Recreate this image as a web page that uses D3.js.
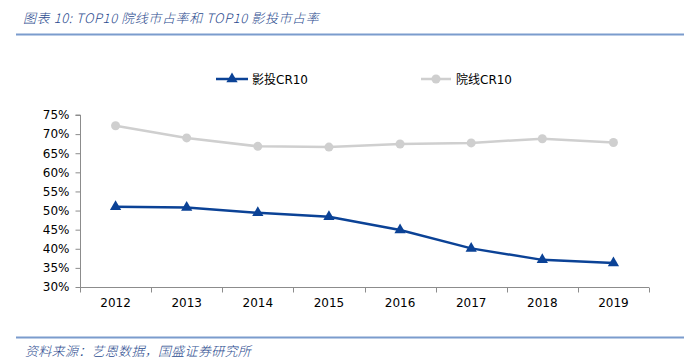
<!DOCTYPE html>
<html>
<head>
<meta charset="utf-8">
<script src="https://cdn.jsdelivr.net/npm/d3@7"></script>
<style>
  body { margin: 0; background: #fff; }
  svg { display: block; }
</style>
</head>
<body>
<div id="chart"></div>
<script>
// data
const years = ['2012', '2013', '2014', '2015', '2016', '2017', '2018', '2019'];
const investCR10 = [51.0, 50.8, 49.4, 48.4, 44.9, 40.1, 37.1, 36.3];
const cinemaCR10 = [72.2, 69.0, 66.8, 66.6, 67.4, 67.7, 68.8, 67.8];
const yTicks = [30, 35, 40, 45, 50, 55, 60, 65, 70, 75];

const W = 684, H = 364;
const plot = { left: 80, right: 649, top: 115, bottom: 287 };
const blue = '#0b4296', grey = '#cfcfcf', axisCol = '#8c8c8c';
const cjk = '"Noto Sans CJK SC", "DejaVu Sans", sans-serif';
const txt = 'Verdana, "DejaVu Sans", "Noto Sans CJK SC", sans-serif';

const svg = d3.select('#chart').append('svg')
    .attr('width', W)
    .attr('height', H);

// header + footer
svg.append('text')
    .attr('x', 23).attr('y', 23)
    .attr('font-family', cjk)
    .attr('font-size', 13)
    .attr('font-weight', 300)
    .attr('font-style', 'italic')
    .attr('letter-spacing', 0.6)
    .attr('fill', '#2a4a8e')
    .text('图表 10:  TOP10 院线市占率和 TOP10 影投市占率');

svg.append('line')
    .attr('x1', 16).attr('x2', W).attr('y1', 34.5).attr('y2', 34.5)
    .attr('stroke', '#7b9ccd').attr('stroke-width', 2);

svg.append('line')
    .attr('x1', 16).attr('x2', W).attr('y1', 337.5).attr('y2', 337.5)
    .attr('stroke', '#7b9ccd').attr('stroke-width', 2);

svg.append('text')
    .attr('x', 25).attr('y', 356)
    .attr('font-family', cjk)
    .attr('font-size', 13)
    .attr('font-weight', 300)
    .attr('font-style', 'italic')
    .attr('letter-spacing', 0.3)
    .attr('fill', '#2a4a8e')
    .text('资料来源：艺恩数据，国盛证券研究所');

// scales
const x = d3.scaleBand().domain(years).range([plot.left, plot.right]);
const y = d3.scaleLinear().domain([30, 75]).range([plot.bottom, plot.top]);
const cx = d => x(d) + x.bandwidth() / 2;

// y axis
const yAxis = svg.append('g')
    .attr('transform', `translate(${plot.left + 0.5},0)`)
    .call(d3.axisLeft(y).tickValues(yTicks).tickSize(5).tickFormat(d => d + '%'));
yAxis.select('.domain').attr('stroke', axisCol).attr('d', `M-5,${plot.top}H0V${plot.bottom}`);
yAxis.selectAll('.tick line').attr('stroke', axisCol);
yAxis.selectAll('text')
    .attr('font-family', txt)
    .attr('font-size', 12)
    .attr('fill', '#000')
    .attr('x', -11);

// x axis
const xAxis = svg.append('g')
    .attr('transform', `translate(0,${plot.bottom + 0.5})`)
    .call(d3.axisBottom(x).tickSize(0).tickPadding(11));
xAxis.select('.domain').attr('stroke', axisCol).attr('d', `M${plot.left},0H${plot.right}`);
xAxis.selectAll('text')
    .attr('font-family', txt)
    .attr('font-size', 12)
    .attr('fill', '#000');
xAxis.selectAll('.sep')
    .data(d3.range(years.length + 1))
    .enter()
    .append('line')
    .attr('class', 'sep')
    .attr('x1', i => Math.round(plot.left + i * x.bandwidth()) + 0.5)
    .attr('x2', i => Math.round(plot.left + i * x.bandwidth()) + 0.5)
    .attr('y1', 0).attr('y2', 5)
    .attr('stroke', axisCol);

// lines
const line = d3.line().x((d, i) => cx(years[i])).y(d => y(d));

svg.append('path')
    .datum(cinemaCR10)
    .attr('fill', 'none')
    .attr('stroke', grey)
    .attr('stroke-width', 2.5)
    .attr('d', line);

svg.append('g').selectAll('circle')
    .data(cinemaCR10)
    .enter()
    .append('circle')
    .attr('cx', (d, i) => cx(years[i]))
    .attr('cy', d => y(d))
    .attr('r', 4.5)
    .attr('fill', grey);

svg.append('path')
    .datum(investCR10)
    .attr('fill', 'none')
    .attr('stroke', blue)
    .attr('stroke-width', 2.5)
    .attr('d', line);

const tri = d3.symbol().type(d3.symbolTriangle).size(55);
svg.append('g').selectAll('path')
    .data(investCR10)
    .enter()
    .append('path')
    .attr('d', tri)
    .attr('transform', (d, i) => `translate(${cx(years[i])},${y(d)})`)
    .attr('fill', blue);

// legend
const leg = svg.append('g');
leg.append('line')
    .attr('x1', 216).attr('x2', 248).attr('y1', 79).attr('y2', 79)
    .attr('stroke', blue).attr('stroke-width', 2.5);
leg.append('path')
    .attr('d', tri)
    .attr('transform', 'translate(232,79)')
    .attr('fill', blue);
leg.append('text')
    .attr('x', 252).attr('y', 83.5)
    .attr('font-family', txt)
    .attr('font-size', 12)
    .attr('fill', '#000')
    .text('影投CR10');

leg.append('line')
    .attr('x1', 421).attr('x2', 451).attr('y1', 79).attr('y2', 79)
    .attr('stroke', grey).attr('stroke-width', 2.5);
leg.append('circle')
    .attr('cx', 436).attr('cy', 79).attr('r', 4.5)
    .attr('fill', grey);
leg.append('text')
    .attr('x', 456).attr('y', 83.5)
    .attr('font-family', txt)
    .attr('font-size', 12)
    .attr('fill', '#000')
    .text('院线CR10');
</script>
</body>
</html>
